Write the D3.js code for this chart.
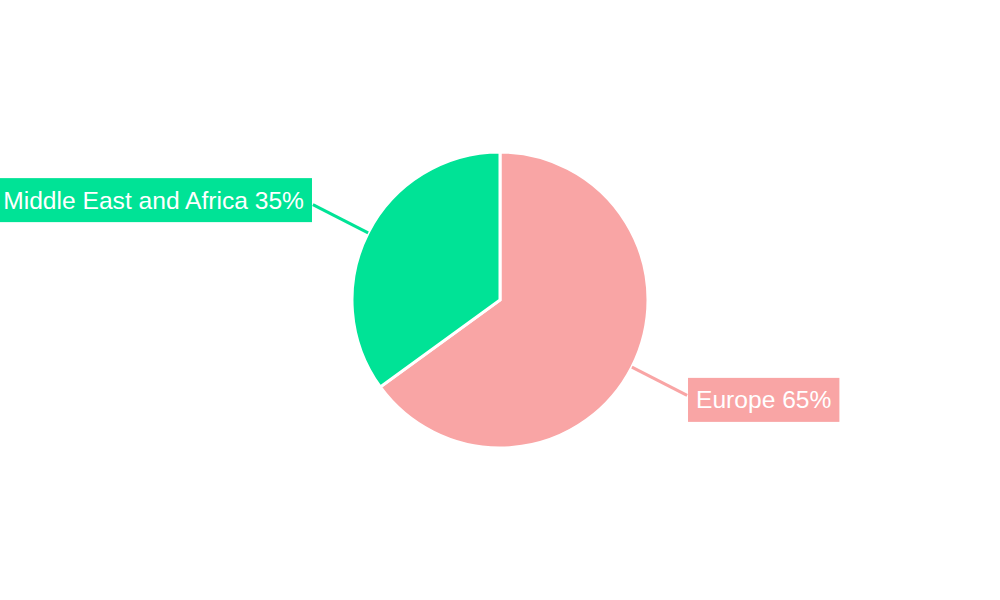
<!DOCTYPE html>
<html>
<head>
<meta charset="utf-8">
<script src="https://cdn.jsdelivr.net/npm/d3@7"></script>
<style>
  body { margin: 0; background: #fff; }
  svg { display: block; font-family: "Liberation Sans", Arial, sans-serif; }
</style>
</head>
<body>
<svg id="pie"></svg>
<script>
let regions = ["Europe", "Middle East and Africa"];
let shares = [65, 35];
let colors = ["#f9a5a5", "#00e396"];

let width = 1000, height = 600;
let radius = 148;

let svg = d3.select('#pie')
    .attr("width", width)
    .attr("height", height)
  .append("g")
    .attr("transform", "translate(" + width / 2 + "," + height / 2 + ")");

let data = regions.map(function (r, i) { return {name: r, value: shares[i], color: colors[i]}; });

let pie = d3.pie().sort(null).value(function (d) { return d.value; });
let arcs = pie(data);

let arc = d3.arc().innerRadius(0).outerRadius(radius);

svg.selectAll("path.slice")
    .data(arcs)
    .enter()
    .append("path")
    .attr("class", "slice")
    .attr("d", arc)
    .style("fill", function (d) { return d.data.color; })
    .style("stroke", "#fff")
    .style("stroke-width", 3);

let mid = function (d) { return (d.startAngle + d.endAngle) / 2; };
let pt = function (a, r) { return [Math.sin(a) * r, -Math.cos(a) * r]; };

// leader lines
svg.selectAll("line.leader")
    .data(arcs)
    .enter()
    .append("line")
    .attr("x1", function (d) { return pt(mid(d), radius)[0]; })
    .attr("y1", function (d) { return pt(mid(d), radius)[1]; })
    .attr("x2", function (d) { return pt(mid(d), 210)[0]; })
    .attr("y2", function (d) { return pt(mid(d), 210)[1]; })
    .style("stroke", function (d) { return d.data.color; })
    .style("stroke-width", 3);

// labels with boxes
let labels = svg.selectAll("g.label")
    .data(arcs)
    .enter()
    .append("g")
    .attr("class", "label");

labels.each(function (d) {
    let g = d3.select(this);
    let p = pt(mid(d), 220);
    let right = p[0] > 0;
    let t = g.append("text")
        .attr("x", p[0])
        .attr("y", p[1])
        .attr("dy", "0.35em")
        .attr("text-anchor", right ? "start" : "end")
        .style("font-size", "24.6px")
        .style("fill", "#fff")
        .text(d.data.name + " " + d.data.value + "%");
    let bb = t.node().getBBox();
    g.insert("rect", "text")
        .attr("x", bb.x - 8)
        .attr("y", p[1] - 22)
        .attr("width", bb.width + 16)
        .attr("height", 44)
        .style("fill", d.data.color);
});
</script>
</body>
</html>
